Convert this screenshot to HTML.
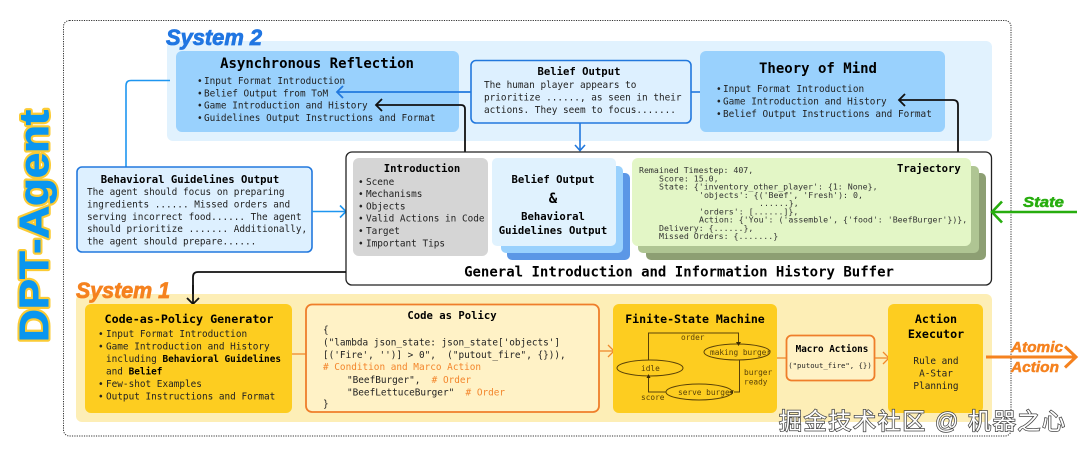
<!DOCTYPE html>
<html><head><meta charset="utf-8"><style>
html,body{margin:0;padding:0;background:#fff;width:1080px;height:449px;overflow:hidden}
svg{display:block}
text{font-family:"DejaVu Sans Mono","Liberation Mono",monospace;fill:#222}
.b{font-weight:bold;fill:#000}
.t{font-size:9.4px}
.h{font-size:10.6px}
.s{font-size:8.25px;fill:#333}
.c{text-anchor:middle}
.sys{font-family:"Liberation Sans",sans-serif;font-weight:bold;font-style:italic}
</style></head><body>
<svg width="1080" height="449" viewBox="0 0 1080 449" xmlns="http://www.w3.org/2000/svg">
<rect x="63.5" y="20.5" width="947.5" height="415.5" rx="6" fill="none" stroke="#333" stroke-width="1" stroke-dasharray="1.2 1.2"/>

<!-- DPT-Agent -->
<text transform="translate(48,342) rotate(-90)" textLength="232" lengthAdjust="spacingAndGlyphs" style="font-family:'Liberation Sans',sans-serif;font-weight:bold;font-size:41px;fill:#0a96ef;stroke:#fbcb35;stroke-width:5px;stroke-linejoin:round">DPT-Agent</text>
<text transform="translate(48,342) rotate(-90)" textLength="232" lengthAdjust="spacingAndGlyphs" style="font-family:'Liberation Sans',sans-serif;font-weight:bold;font-size:41px;fill:#0a96ef;stroke:#0a96ef;stroke-width:1px">DPT-Agent</text>

<!-- System 2 -->
<rect x="167" y="41" width="825" height="100" rx="6" fill="#e1f2fe"/>
<text class="sys" x="166" y="45" font-size="22.5" textLength="96" lengthAdjust="spacingAndGlyphs" style="fill:#2176e2;stroke:#2176e2;stroke-width:.8px">System 2</text>
<rect x="176" y="51" width="283" height="81" rx="6" fill="#99d1fd"/>
<rect x="700" y="51" width="245" height="81" rx="6" fill="#99d1fd"/>
<text class="b c" x="317" y="68" font-size="14">Asynchronous Reflection</text>
<text class="t" x="197" y="84">•<tspan x="204">Input Format Introduction</tspan></text>
<text class="t" x="197" y="96.5">•<tspan x="204">Belief Output from ToM</tspan></text>
<text class="t" x="197" y="108.5">•<tspan x="204">Game Introduction and History</tspan></text>
<text class="t" x="197" y="121">•<tspan x="204">Guidelines Output Instructions and Format</tspan></text>
<text class="b c" x="818" y="73" font-size="14">Theory of Mind</text>
<text class="t" x="716" y="92">•<tspan x="723">Input Format Introduction</tspan></text>
<text class="t" x="716" y="104.5">•<tspan x="723">Game Introduction and History</tspan></text>
<text class="t" x="716" y="117">•<tspan x="723">Belief Output Instructions and Format</tspan></text>

<rect x="471" y="60.5" width="220" height="62.5" rx="5" fill="#ddf0ff" stroke="#2278dd" stroke-width="1.6"/>
<text class="b c h" x="579" y="75">Belief Output</text>
<text class="t" x="484" y="88">The human player appears to</text>
<text class="t" x="484" y="100.5">prioritize ......, as seen in their</text>
<text class="t" x="484" y="113">actions. They seem to focus.......</text>

<!-- blue connectors -->
<path d="M700 92H691" fill="none" stroke="#2278dd" stroke-width="1.6"/>
<path d="M471 92H337" fill="none" stroke="#2278dd" stroke-width="1.8"/>
<path d="M343 86l-6 6l6 6" fill="none" stroke="#2278dd" stroke-width="1.8"/>
<path d="M580 123V150" fill="none" stroke="#2278dd" stroke-width="1.6"/>
<path d="M575 145l5 5.5l5-5.5" fill="none" stroke="#2278dd" stroke-width="1.6"/>
<path d="M170 80.5H131q-5 0-5 5V167" fill="none" stroke="#1e96f0" stroke-width="1.6"/>

<!-- black connectors -->
<path d="M465 152V109q0-4-4-4H376" fill="none" stroke="#111" stroke-width="1.8"/>
<path d="M382 99l-6 6l6 6" fill="none" stroke="#111" stroke-width="1.8"/>
<path d="M958 152V105q0-5-5-5H899" fill="none" stroke="#111" stroke-width="1.8"/>
<path d="M905 94l-6 6l6 6" fill="none" stroke="#111" stroke-width="1.8"/>

<!-- Behavioral -->
<rect x="77" y="167" width="235" height="85" rx="5" fill="#ddf0ff" stroke="#2278dd" stroke-width="1.6"/>
<text class="b c h" x="190" y="183">Behavioral Guidelines Output</text>
<text class="t" x="87" y="195">The agent should focus on preparing</text>
<text class="t" x="87" y="207.5">ingredients ...... Missed orders and</text>
<text class="t" x="87" y="220">serving incorrect food...... The agent</text>
<text class="t" x="87" y="232">should prioritize ....... Additionally,</text>
<text class="t" x="87" y="244.5">the agent should prepare......</text>
<path d="M312 211.5H346" fill="none" stroke="#1e96f0" stroke-width="1.6"/>
<path d="M340 205.5l6 6l-6 6" fill="none" stroke="#1e96f0" stroke-width="1.6"/>

<!-- Buffer -->
<rect x="346" y="152" width="645.5" height="133" rx="6" fill="#fff" stroke="#222" stroke-width="1.3"/>
<path d="M346 272H198q-5 0-5 5V304" fill="none" stroke="#111" stroke-width="1.8"/>
<rect x="353" y="158" width="135" height="98" rx="6" fill="#d5d5d5"/>
<text class="b c h" x="422" y="172">Introduction</text>
<text class="t" x="358" y="185">•<tspan x="366">Scene</tspan></text>
<text class="t" x="358" y="197">•<tspan x="366">Mechanisms</tspan></text>
<text class="t" x="358" y="209.5">•<tspan x="366">Objects</tspan></text>
<text class="t" x="358" y="221.5">•<tspan x="366">Valid Actions in Code</tspan></text>
<text class="t" x="358" y="234">•<tspan x="366">Target</tspan></text>
<text class="t" x="358" y="246.5">•<tspan x="366">Important Tips</tspan></text>

<rect x="507" y="173" width="123" height="87" rx="5" fill="#5b97e6"/>
<rect x="501" y="166" width="122" height="87" rx="5" fill="#99d1fd"/>
<rect x="492" y="158" width="124" height="88" rx="5" fill="#e0f2fe"/>
<text class="b c h" x="553" y="183">Belief Output</text>
<text class="b c" x="553" y="203" font-size="14">&amp;</text>
<text class="b c h" x="553" y="220">Behavioral</text>
<text class="b c h" x="553" y="234">Guidelines Output</text>

<rect x="646" y="173" width="340" height="87" rx="5" fill="#8d9f73"/>
<rect x="638" y="166" width="341" height="87" rx="5" fill="#afc593"/>
<rect x="632" y="158" width="339" height="88" rx="6" fill="#e3f6c6"/>
<text class="b h" x="897" y="172">Trajectory</text>
<text class="s" x="639" y="173">Remained Timestep: 407,</text>
<text class="s" x="659" y="181.5">Score: 15.0,</text>
<text class="s" x="659" y="189.5">State: {'inventory_other_player': {1: None},</text>
<text class="s" x="699" y="198">'objects': {('Beef', 'Fresh'): 0,</text>
<text class="s" x="759" y="206">......},</text>
<text class="s" x="699" y="214.5">'orders': [......]},</text>
<text class="s" x="699" y="222.5">Action: {'You': ('assemble', {'food': 'BeefBurger'})},</text>
<text class="s" x="659" y="231">Delivery: {......},</text>
<text class="s" x="659" y="239">Missed Orders: {.......}</text>
<text class="b c" x="679" y="276.5" font-size="14">General Introduction and Information History Buffer</text>

<!-- State -->
<path d="M993 212H1077" fill="none" stroke="#27ad0e" stroke-width="2.6"/>
<path d="M1002 201.5l-10 10.5l10 10.5" fill="none" stroke="#27ad0e" stroke-width="2.6"/>
<text class="sys" x="1023" y="207" font-size="15" textLength="41" lengthAdjust="spacingAndGlyphs" style="fill:#27ad0e;stroke:#27ad0e;stroke-width:.5px">State</text>

<!-- System 1 -->
<rect x="76" y="294" width="916" height="128" rx="6" fill="#fdeeb6"/>
<text class="sys" x="76" y="298" font-size="22.5" textLength="94" lengthAdjust="spacingAndGlyphs" style="fill:#f5821f;stroke:#f5821f;stroke-width:.8px">System 1</text>
<path d="M187 298l6 6l6-6" fill="none" stroke="#111" stroke-width="1.8"/>
<path d="M193 285V304" fill="none" stroke="#111" stroke-width="1.8"/>

<rect x="85" y="304" width="207" height="109" rx="6" fill="#fdcd20"/>
<text class="b c" x="189" y="323" font-size="11.7">Code-as-Policy Generator</text>
<text class="t" x="98" y="337">•<tspan x="106">Input Format Introduction</tspan></text>
<text class="t" x="98" y="349.5">•<tspan x="106">Game Introduction and History</tspan></text>
<text class="t" x="106" y="362">including <tspan class="b">Behavioral Guidelines</tspan></text>
<text class="t" x="106" y="374.5">and <tspan class="b">Belief</tspan></text>
<text class="t" x="98" y="387">•<tspan x="106">Few-shot Examples</tspan></text>
<text class="t" x="98" y="399.5">•<tspan x="106">Output Instructions and Format</tspan></text>

<path d="M292 354H306" stroke="#f08a2c" stroke-width="1.3"/>
<rect x="306" y="304.5" width="293" height="107.5" rx="6" fill="#fff2c6" stroke="#ef7e2a" stroke-width="1.8"/>
<text class="b c h" x="452" y="319">Code as Policy</text>
<text class="t" x="323" y="333">{</text>
<text class="t" x="323" y="345.5">("lambda json_state: json_state['objects']</text>
<text class="t" x="323" y="358">[('Fire', '')] &gt; 0",&#160;&#160;("putout_fire", {})),</text>
<text class="t" x="323" y="370" style="fill:#f3862c"># Condition and Marco Action</text>
<text class="t" x="347" y="383">"BeefBurger",&#160;&#160;<tspan style="fill:#f3862c"># Order</tspan></text>
<text class="t" x="347" y="395.5">"BeefLettuceBurger"&#160;&#160;<tspan style="fill:#f3862c"># Order</tspan></text>
<text class="t" x="323" y="407">}</text>

<path d="M599 351H613" fill="none" stroke="#f08a2c" stroke-width="1.3"/>
<path d="M608 345l6 6l-6 6" fill="none" stroke="#f08a2c" stroke-width="1.3"/>

<rect x="613" y="304" width="164" height="109" rx="6" fill="#fdcd20"/>
<text class="b c" x="695" y="323" font-size="11.6">Finite-State Machine</text>
<g fill="none" stroke="#5a4208" stroke-width="1">
<ellipse cx="737" cy="352" rx="33" ry="8"/>
<ellipse cx="650" cy="368" rx="33" ry="8"/>
<ellipse cx="699" cy="392" rx="33" ry="8"/>
<path d="M648.5 360V333H738.5V342"/>
<path d="M739.5 360V392H734"/>
<path d="M666 392H648.5V378"/>
</g>
<path d="M736 342h5l-2.5 4z M733 390v4l-4-2z M646.5 378h4l-2-4z" fill="#3d2d05"/>
<g style="font-size:7.8px">
<text x="681" y="340" style="fill:#5a4208;font-size:7.8px">order</text>
<text x="710" y="355" style="fill:#5a4208;font-size:7.8px">making burger</text>
<text x="641" y="371" style="fill:#5a4208;font-size:7.8px">idle</text>
<text x="678" y="395" style="fill:#5a4208;font-size:7.8px">serve burger</text>
<text x="744" y="375" style="fill:#5a4208;font-size:7.8px">burger</text>
<text x="744" y="384.5" style="fill:#5a4208;font-size:7.8px">ready</text>
<text x="641" y="400" style="fill:#5a4208;font-size:7.8px">score</text>
</g>

<path d="M777 358H786" stroke="#f08a2c" stroke-width="1.3"/>
<rect x="786.5" y="335.5" width="88" height="45" rx="5" fill="#fff2c6" stroke="#ef7e2a" stroke-width="1.8"/>
<text class="b c" x="832" y="352" font-size="9.3">Macro Actions</text>
<text class="c" x="830" y="368" font-size="7.3">("putout_fire", {})</text>
<path d="M875 358H888" fill="none" stroke="#f08a2c" stroke-width="1.3"/>
<path d="M883 352l6 6l-6 6" fill="none" stroke="#f08a2c" stroke-width="1.3"/>

<rect x="888" y="304" width="95" height="109" rx="6" fill="#fdcd20"/>
<text class="b c" x="936" y="323" font-size="11.7">Action</text>
<text class="b c" x="936" y="338" font-size="11.7">Executor</text>
<text class="c t" x="936" y="364">Rule and</text>
<text class="c t" x="936" y="376.5">A-Star</text>
<text class="c t" x="936" y="389">Planning</text>

<!-- Atomic action -->
<path d="M986 357H1076" fill="none" stroke="#f5821f" stroke-width="3"/>
<path d="M1065 346.5l11 10.5l-11 10.5" fill="none" stroke="#f5821f" stroke-width="3"/>
<text class="sys" x="1011" y="352" font-size="15" textLength="52" lengthAdjust="spacingAndGlyphs" style="fill:#f5821f;stroke:#f5821f;stroke-width:.5px">Atomic</text>
<text class="sys" x="1011" y="372" font-size="15" textLength="48" lengthAdjust="spacingAndGlyphs" style="fill:#f5821f;stroke:#f5821f;stroke-width:.5px">Action</text>

<!-- watermark -->
<text x="779" y="429" style="font-family:'Liberation Sans','Noto Sans CJK SC',sans-serif;font-size:23px;fill:#fff;stroke:#444;stroke-width:1.5px;paint-order:stroke" textLength="286">掘金技术社区 @ 机器之心</text>
</svg>
</body></html>
